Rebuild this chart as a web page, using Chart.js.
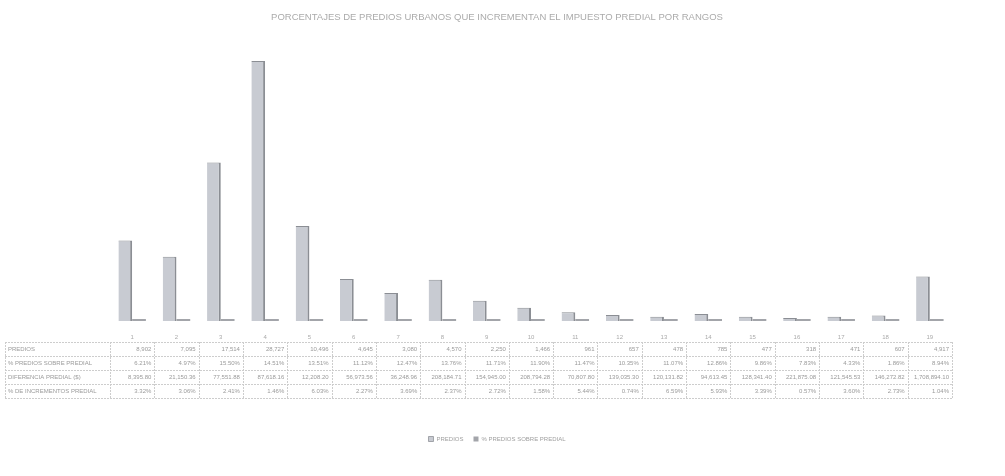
<!DOCTYPE html>
<html>
<head>
<meta charset="utf-8">
<script src="https://cdn.jsdelivr.net/npm/chart.js@4"></script>
<style>
  html, body { margin: 0; padding: 0; background: #fff; }
  #wrap { width: 1005px; height: 476px; }
</style>
</head>
<body>
<div id="wrap"><canvas id="grafica"></canvas></div>
<script>
const rangos = ['1', '2', '3', '4', '5', '6', '7', '8', '9', '10', '11', '12', '13', '14', '15', '16', '17', '18', '19'];
const predios = [8902, 7095, 17514, 28727, 10496, 4645, 3080, 4570, 2250, 1466, 961, 657, 478, 785, 477, 318, 471, 607, 4917];
const pctPredios = [6.21, 4.97, 15.50, 14.51, 13.51, 11.12, 12.47, 13.76, 11.71, 11.90, 11.47, 10.35, 11.07, 12.86, 9.86, 7.83, 4.33, 1.86, 8.94];
const diferencia = [8395.80, 21150.36, 77551.88, 87618.16, 12208.20, 56973.56, 36248.96, 208184.71, 154945.00, 208794.28, 70807.80, 139035.30, 120131.82, 94613.45, 128341.40, 221875.08, 121545.53, 146272.82, 1708894.10];
const pctIncremento = [3.32, 3.06, 2.41, 1.46, 6.03, 2.27, 3.69, 2.37, 2.72, 1.58, 5.44, 0.74, 6.59, 5.93, 3.39, 0.57, 3.60, 2.73, 1.04];
const filas = ['PREDIOS', '% PREDIOS SOBRE PREDIAL', 'DIFERENCIA PREDIAL ($)', '% DE INCREMENTOS PREDIAL'];

const fuente = "'Liberation Sans', Arial, sans-serif";

function fmtEntero(v) { return v.toLocaleString('en-US'); }
function fmtPct(v) { return v.toFixed(2) + '%'; }
function fmtMoneda(v) { return v.toLocaleString('en-US', { minimumFractionDigits: 2, maximumFractionDigits: 2 }); }

// Tabla de datos debajo del eje x (como la de Excel)
const tablaDatos = {
  id: 'tablaDatos',
  afterDraw(chart) {
    const ctx = chart.ctx;
    const x = chart.scales.x;
    const ancho = (x.right - x.left) / rangos.length;
    const arriba = x.top + 21;
    const alto = 14;
    const izq = 5;
    const valores = [predios.map(fmtEntero), pctPredios.map(fmtPct), diferencia.map(fmtMoneda), pctIncremento.map(fmtPct)];

    ctx.save();
    ctx.strokeStyle = '#cdcdcd';
    ctx.lineWidth = 1;
    ctx.setLineDash([2, 1]);
    for (let r = 0; r <= filas.length; r++) {
      const y = Math.round(arriba + r * alto) + 0.5;
      ctx.beginPath();
      ctx.moveTo(izq, y);
      ctx.lineTo(x.right, y);
      ctx.stroke();
    }
    const bordes = [izq];
    rangos.forEach((r, i) => bordes.push(x.getPixelForValue(i) - ancho / 2));
    bordes.push(x.right);
    bordes.forEach(bx => {
      const px = Math.round(bx) + 0.5;
      ctx.beginPath();
      ctx.moveTo(px, arriba);
      ctx.lineTo(px, arriba + filas.length * alto);
      ctx.stroke();
    });

    ctx.setLineDash([]);
    ctx.font = '6px ' + fuente;
    ctx.fillStyle = '#9a9a9a';
    ctx.textBaseline = 'middle';
    filas.forEach((f, r) => {
      const y = arriba + r * alto + alto / 2;
      ctx.textAlign = 'left';
      ctx.fillText(f, izq + 3, y);
      ctx.textAlign = 'right';
      valores[r].forEach((v, i) => {
        ctx.fillText(v, x.getPixelForValue(i) + ancho / 2 - 3, y);
      });
    });
    ctx.restore();
  }
};

// ejes invisibles solo para reservar espacio a los lados
const ejeVacio = (ancho) => ({
  display: true,
  grid: { display: false },
  border: { display: false },
  ticks: { display: false },
  afterFit(scale) { scale.width = ancho; }
});

const ctx = document.getElementById('grafica').getContext('2d');
new Chart(ctx, {
  type: 'bar',
  data: {
    labels: rangos,
    datasets: [{
      label: 'PREDIOS',
      data: predios,
      backgroundColor: '#c8cbd2',
      borderColor: '#8b8e94',
      borderWidth: { top: 1, right: 2, bottom: 0, left: 0 },
      borderSkipped: false,
      yAxisID: 'y'
    }, {
      label: '% PREDIOS SOBRE PREDIAL',
      data: pctPredios,
      backgroundColor: '#a3a5aa',
      minBarLength: 2,
      yAxisID: 'y'
    }]
  },
  options: {
    responsive: true,
    maintainAspectRatio: false,
    animation: false,
    categoryPercentage: 0.62,
    barPercentage: 1,
    layout: { padding: { top: 0, left: 5, right: 16, bottom: 24 } },
    plugins: {
      title: {
        display: true,
        text: 'PORCENTAJES DE PREDIOS URBANOS QUE INCREMENTAN EL IMPUESTO PREDIAL POR RANGOS',
        color: '#ababab',
        font: { family: fuente, size: 9.5, weight: 'normal' },
        padding: { top: 12, bottom: 26 }
      },
      legend: {
        position: 'bottom',
        labels: {
          color: '#a0a0a0',
          font: { family: fuente, size: 6 },
          boxWidth: 5,
          boxHeight: 5,
          padding: 10
        }
      },
      tooltip: { enabled: false }
    },
    scales: {
      x: {
        grid: { display: false },
        border: { display: false },
        ticks: { color: '#aaaaaa', font: { family: fuente, size: 6 }, padding: 5 },
        afterFit(scale) { scale.height = 105; }
      },
      y: Object.assign(ejeVacio(105), { position: 'left', min: 0, max: 30000 }),
      y2: Object.assign(ejeVacio(37), { position: 'right', min: 0, max: 30000 })
    }
  },
  plugins: [tablaDatos]
});
</script>
</body>
</html>
